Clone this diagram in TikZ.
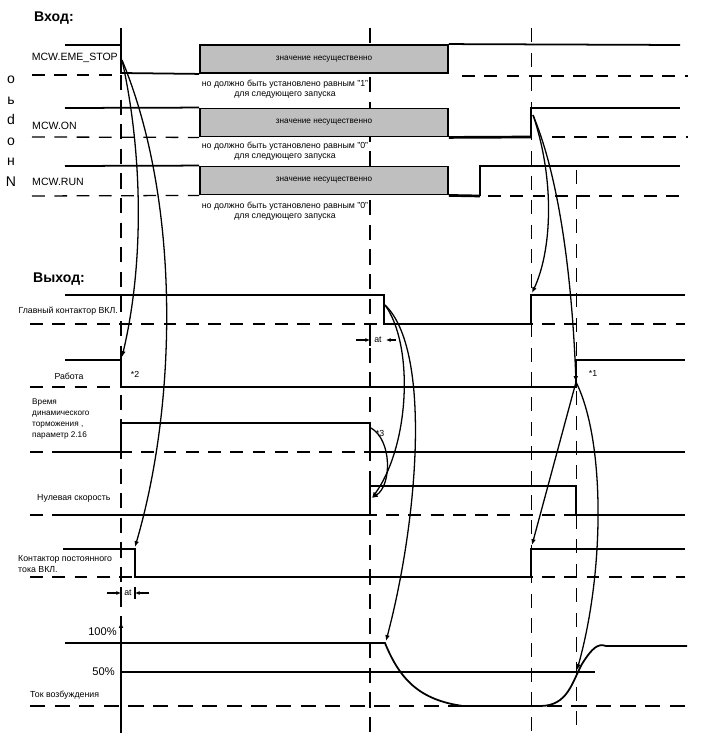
\documentclass[tikz,border=0pt]{standalone}
\usepackage{fontspec}
\setmainfont{Liberation Sans}
\usetikzlibrary{arrows.meta,positioning}
\tikzset{
  sigline/.style={line width=1.5pt,line join=miter},
  heavyline/.style={line width=2.3pt,line join=miter},
  zeroline/.style={line width=1.1pt,dash pattern=on 11pt off 8pt},
  guidethick/.style={line width=2pt,dash pattern=on 13pt off 8pt},
  guidethin/.style={line width=0.8pt,dash pattern=on 12pt off 9pt},
  dontcare/.style={draw=black,line width=1.3pt,fill=black!25,minimum width=7.44cm,minimum height=0.85cm,inner sep=0pt,font=\fontsize{7}{8}\selectfont},
  cause/.style={-{Latex[length=5pt,width=4pt]},line width=1.1pt},
  smalltxt/.style={font=\fontsize{7.5}{9}\selectfont,inner sep=0pt,align=center},
  siglbl/.style={font=\fontsize{9}{10}\selectfont,inner sep=0pt},
  headlbl/.style={font=\fontsize{12}{14}\selectfont\bfseries,inner sep=0pt},
  pctlbl/.style={font=\fontsize{9.5}{10}\selectfont,inner sep=0pt},
  dtick/.style={-{Latex[length=4pt,width=3.5pt]},line width=0.9pt}
}

\begin{document}
\begin{tikzpicture}[x=0.03cm,y=-0.03cm]
\useasboundingbox (0,0) rectangle (727,740);
% Vertikale Hilfslinien
\draw[sigline] (121,28) -- (121,45);
\draw[guidethick] (121,75) -- (121,735);
\draw[guidethick] (370,28) -- (370,735);
\draw[guidethin] (531,28) -- (531,735);
\draw[guidethin] (576,170) -- (576,735);

% Eingang
\node[headlbl,anchor=west] (inhead) at (34,18) {Вход:};
\node[font=\fontsize{12}{17.5}\selectfont,align=center,inner sep=0pt,anchor=north] (sidechars) at (11,76) {о\\ь\\d\\о\\н\\N};

\node[dontcare] (boxA) at (324,59) {значение несущественно};
\node[dontcare] (boxB) at (324,122.5) {значение несущественно};
\node[dontcare] (boxC) at (324,180.5) {значение несущественно};

\node[smalltxt] (noteA) at (285,89) {но должно быть установлено равным "1"\\для следующего запуска};
\node[smalltxt] (noteB) at (285,151) {но должно быть установлено равным "0"\\для следующего запуска};
\node[smalltxt] (noteC) at (285,211) {но должно быть установлено равным "0"\\для следующего запуска};

\node[siglbl,anchor=east] (emelbl) at (118,58) {MCW.EME\_STOP};
\draw[zeroline] (32,75) -- (112,75);
\draw[zeroline] (462,76) -- (688,76);
\draw[sigline] (65,45) -- (121,45) -- (121,73) -- (boxA.south west);
\draw[sigline] (boxA.north east) -- (680,45);

\node[siglbl,anchor=west] (onlbl) at (32,126) {MCW.ON};
\draw[zeroline] (32,137) -- (boxB.south west);
\draw[zeroline] (552,137) -- (688,137);
\draw[sigline] (65,108) -- (boxB.north west);
\draw[heavyline] (boxB.south east) -- (531,137);
\draw[sigline] (531,137) -- (531,108) -- (680,108);

\node[siglbl,anchor=west] (runlbl) at (32,182) {MCW.RUN};
\draw[zeroline] (32,196) -- (boxC.south west);
\draw[zeroline] (488,196) -- (688,196);
\draw[sigline] (65,166) -- (boxC.north west);
\draw[heavyline] (boxC.south east) -- (480,196);
\draw[sigline] (480,196) -- (480,166) -- (680,166);

% Ausgang
\node[headlbl,anchor=west] (outhead) at (33,279) {Выход:};

\node[smalltxt,anchor=east] (mainlbl) at (118,311) {Главный контактор ВКЛ.};
\draw[zeroline] (30,324) -- (685,324);
\draw[sigline] (65,295) -- (384,295) -- (384,324) -- (531,324) -- (531,295) -- (685,295);

\node[smalltxt] (runlbl2) at (69,376) {Работа};
\node[smalltxt] (star2) at (135,374) {*2};
\node[smalltxt] (star1) at (593,373) {*1};
\draw[zeroline] (30,387) -- (112,387);
\draw[sigline] (65,360) -- (121,360) -- (121,387) -- (576,387) -- (576,360) -- (685,360);

\node[smalltxt,align=left,anchor=north west,font=\fontsize{7}{9.4}\selectfont] (brakelbl) at (32,399) {Время\\динамического\\торможения ,\\параметр 2.16};
\node[smalltxt] (star3) at (380,433) {*3};
\draw[zeroline] (30,452) -- (685,452);
\draw[sigline] (65,452) -- (121,452) -- (121,423) -- (370,423) -- (370,452) -- (685,452);

\node[smalltxt,anchor=west] (zerolbl) at (37,498) {Нулевая скорость};
\draw[zeroline] (30,515) -- (685,515);
\draw[sigline] (65,515) -- (370,515) -- (370,486) -- (576,486) -- (576,515);
\draw[heavyline] (576,515) -- (685,515);

\node[smalltxt,align=left,anchor=west] (dclbl) at (18,564) {Контактор постоянного\\тока ВКЛ.};
\draw[zeroline] (30,577) -- (685,577);
\draw[heavyline] (63,549) -- (135,549) -- (135,577) -- (531,577);
\draw[sigline] (531,577) -- (531,549) -- (685,549);

% Delta t
\draw[dtick] (356,340) -- (370,340);
\draw[line width=1pt] (370,334) -- (370,346);
\node[smalltxt] (dt1) at (378,340) {at};
\draw[dtick] (396,340) -- (386,340);
\draw[dtick] (107,593) -- (121,593);
\draw[line width=1pt] (121,587) -- (121,599) (135,587) -- (135,599);
\node[smalltxt] (dt2) at (128,593) {at};
\draw[dtick] (149,593) -- (135,593);

% Erregerstrom
\node[pctlbl,anchor=east] (fulllbl) at (117,632) {100\%};
\node[pctlbl,anchor=east] (halflbl) at (115,672) {50\%};
\node[smalltxt,anchor=west] (fieldlbl) at (30,695) {Ток возбуждения};
\draw[guidethick] (30,706) -- (685,706);
\draw[line width=0.9pt] (121,672) -- (595,672);
\draw[line width=1.6pt,-{Latex[length=5pt,width=4pt]}] (121,733) -- (121,622);
\draw[sigline] (65,643) -- (385,643)
  .. controls (400,680) and (420,700) .. (463,706) -- (540,706)
  .. controls (568,706) and (572,682) .. (582,664)
  .. controls (592,648) and (598,643) .. (606,646) -- (687,646);

% Kausalpfeile
\coordinate (emeedge) at (122,60);
\coordinate (runoff) at (122,357);
\coordinate (dcoff) at (135,547);
\coordinate (mainoff) at (385,305);
\coordinate (brakeoff) at (371,428);
\coordinate (zeroon) at (372,498);
\coordinate (fieldfall) at (386,641);
\coordinate (onrise) at (533,115);
\coordinate (mainon) at (532,293);
\coordinate (runon) at (576,382);
\coordinate (dcon) at (532,545);
\coordinate (fieldrise) at (577,670);

\draw[cause] (emeedge) .. controls (142,150) and (145,260) .. (runoff);
\draw[cause] (emeedge) .. controls (180,200) and (178,400) .. (dcoff);
\draw[cause] (mainoff) .. controls (414,345) and (410,445) .. (zeroon);
\draw[cause] (mainoff) .. controls (432,350) and (418,520) .. (fieldfall);
\draw[cause] (brakeoff) .. controls (392,440) and (392,485) .. (zeroon);
\draw[cause] (onrise) .. controls (555,180) and (552,250) .. (mainon);
\draw[cause] (onrise) .. controls (560,180) and (572,280) .. (runon);
\draw[cause] (runon) -- (dcon);
\draw[cause] (runon) .. controls (605,440) and (605,570) .. (fieldrise);
\end{tikzpicture}
\end{document}
